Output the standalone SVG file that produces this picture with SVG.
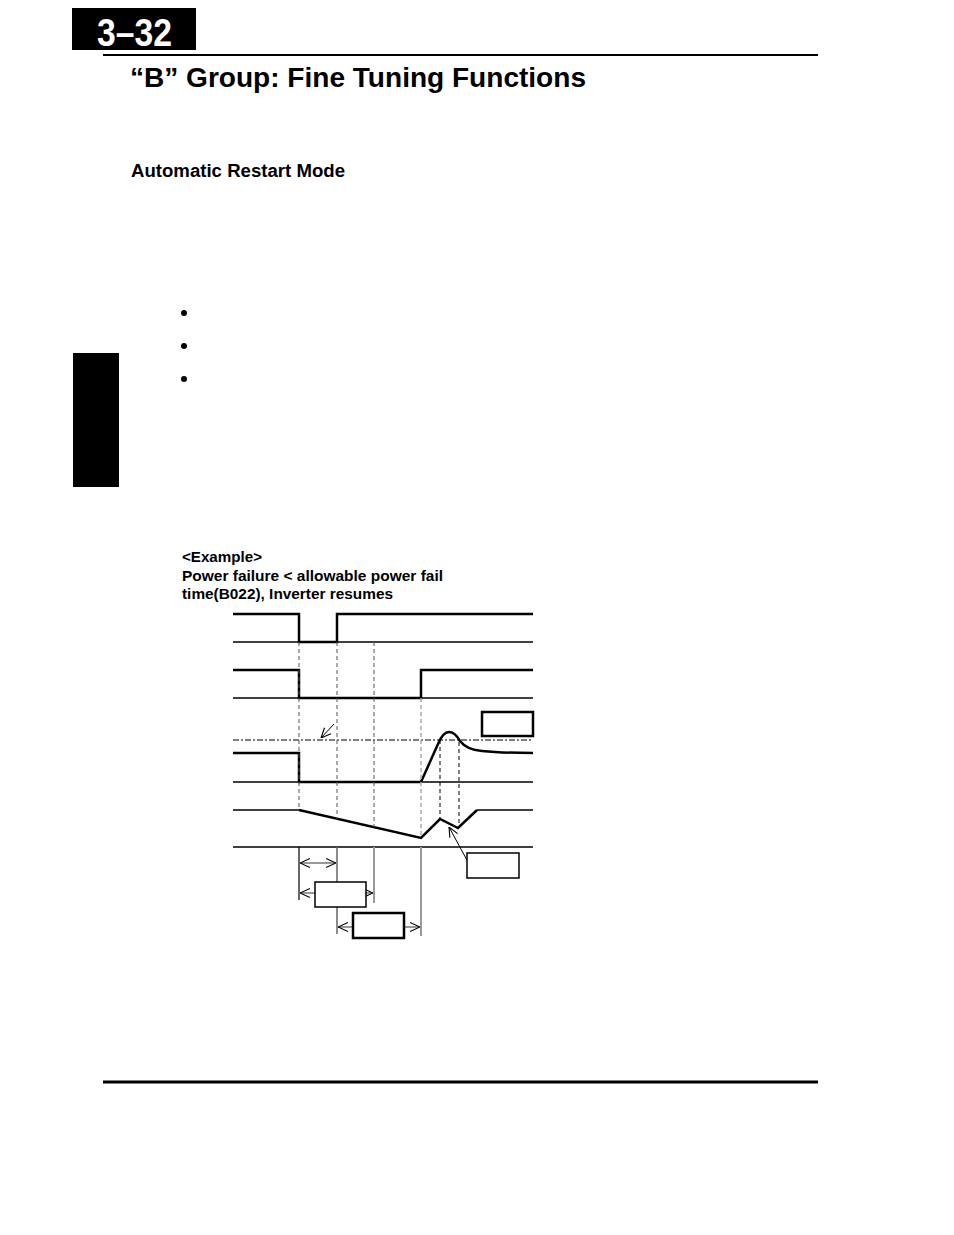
<svg xmlns="http://www.w3.org/2000/svg" width="954" height="1235" viewBox="0 0 954 1235">
<style>
.t{font-family:"Liberation Sans",Arial,sans-serif;font-weight:bold;fill:#000}
.sep{stroke:#000;stroke-width:1.5;fill:none}
.wave{stroke:#000;stroke-width:2.5;fill:none;stroke-linejoin:miter}
.dash{stroke:#555;stroke-width:1;stroke-dasharray:4,3;fill:none}
.dashl{stroke:#aaa;stroke-width:1.5;stroke-dasharray:4,3;fill:none}
.dashb{stroke:#000;stroke-width:1;stroke-dasharray:4,3;fill:none}
.gl{stroke:#999;stroke-width:2;fill:none}
.box{fill:#fff;stroke:#000;stroke-width:1.5}
.boxb{fill:#fff;stroke:#000;stroke-width:2.5}
.arr{stroke:#999;stroke-width:2;fill:none;marker-start:url(#ah);marker-end:url(#ah)}
</style>
<defs>
<marker id="ah" viewBox="0 0 10 10" refX="10" refY="5" markerWidth="11" markerHeight="11" markerUnits="userSpaceOnUse" orient="auto-start-reverse">
<path d="M1,1 L10,5 L1,9" fill="none" stroke="#000" stroke-width="1"/>
</marker>
<marker id="ak" viewBox="0 0 10 10" refX="10" refY="5" markerWidth="11" markerHeight="11" markerUnits="userSpaceOnUse" orient="auto">
<path d="M1,1 L10,5 L1,9" fill="none" stroke="#000" stroke-width="1"/>
</marker>
</defs>
<rect width="954" height="1235" fill="#fff"/>
<g id="page-header">
<rect x="72" y="8" width="124" height="42" fill="#000"/>
<text x="97" y="46" class="t" style="fill:#fff" font-size="38" textLength="75" lengthAdjust="spacingAndGlyphs">3–32</text>
<line x1="103" y1="55" x2="818" y2="55" stroke="#000" stroke-width="2"/>
<text x="130" y="87" class="t" font-size="28" textLength="456" lengthAdjust="spacingAndGlyphs">“B” Group: Fine Tuning Functions</text>
</g>
<g id="section-title">
<text x="131" y="177" class="t" font-size="18" textLength="214" lengthAdjust="spacingAndGlyphs">Automatic Restart Mode</text>
</g>
<g id="bullets">
<circle cx="184" cy="313" r="3" fill="#000"/>
<circle cx="184" cy="346" r="3" fill="#000"/>
<circle cx="184" cy="379" r="3" fill="#000"/>
</g>
<g id="side-tab">
<rect x="73" y="353" width="46" height="134" fill="#000"/>
</g>
<g id="example-caption">
<text x="182" y="562" class="t" font-size="15.5" textLength="80" lengthAdjust="spacingAndGlyphs">&lt;Example&gt;</text>
<text x="182" y="581" class="t" font-size="15.5" textLength="261" lengthAdjust="spacingAndGlyphs">Power failure &lt; allowable power fail</text>
<text x="182" y="599" class="t" font-size="15.5" textLength="211" lengthAdjust="spacingAndGlyphs">time(B022), Inverter resumes</text>
</g>
<g id="timing-grid">
<line class="sep" x1="233" y1="642" x2="533" y2="642"/>
<line class="sep" x1="233" y1="698" x2="533" y2="698"/>
<line class="sep" x1="233" y1="782" x2="533" y2="782"/>
<line class="sep" x1="233" y1="847" x2="533" y2="847"/>
<line x1="233" y1="740" x2="533" y2="740" stroke="#000" stroke-width="1" stroke-dasharray="6,2,2,2"/>
</g>
<g id="waveform-1">
<polyline class="wave" points="233,614 299,614 299,642 337,642 337,614 533,614"/>
</g>
<g id="waveform-2">
<polyline class="wave" points="233,670 299,670 299,698 421,698 421,670 533,670"/>
</g>
<g id="waveform-3">
<polyline class="wave" points="233,753 299,753 299,782 421,782"/>
<path class="wave" d="M421,782 L438,744 Q443,732 449,732 Q455,732 460,741 Q467,750 482,751 Q502,753 533,753"/>
</g>
<g id="waveform-4">
<line class="sep" x1="233" y1="810" x2="299" y2="810"/>
<polyline class="wave" points="299,810 421,838 440,819 458,828 477,810"/>
<line class="sep" x1="477" y1="810" x2="533" y2="810"/>
</g>
<g id="connectors">
<line class="dash" x1="299" y1="642" x2="299" y2="810"/>
<line class="dash" x1="337" y1="642" x2="337" y2="819"/>
<line class="dash" x1="374" y1="642" x2="374" y2="827"/>
<line class="dashl" x1="421" y1="698" x2="421" y2="838"/>
<line class="dashb" x1="440" y1="740" x2="440" y2="819"/>
<line class="dashb" x1="459" y1="742" x2="459" y2="828"/>
<line x1="299" y1="847" x2="299" y2="900" stroke="#000" stroke-width="1.2"/>
<line x1="337" y1="847" x2="337" y2="934" stroke="#666" stroke-width="1.5"/>
<line class="gl" x1="374" y1="847" x2="374" y2="903"/>
<line class="gl" x1="421" y1="847" x2="421" y2="936"/>
<line class="arr" x1="300" y1="863" x2="336" y2="863"/>
<line class="arr" x1="300" y1="893" x2="373" y2="893"/>
<line class="arr" x1="338" y1="927" x2="420" y2="927"/>
<line x1="334" y1="724" x2="321" y2="738" stroke="#000" stroke-width="1" marker-end="url(#ak)"/>
<line x1="468" y1="862" x2="449" y2="827" stroke="#000" stroke-width="1" marker-end="url(#ak)"/>
</g>
<g id="label-box-top"><rect class="boxb" x="482" y="712" width="51" height="24"/></g>
<g id="label-box-right"><rect class="box" x="467" y="853" width="52" height="25"/></g>
<g id="label-box-1"><rect class="box" x="315" y="882" width="51" height="25"/></g>
<g id="label-box-2"><rect class="boxb" x="353" y="913" width="51" height="25"/></g>
<g id="page-footer">
<line x1="103" y1="1082" x2="818" y2="1082" stroke="#000" stroke-width="3"/>
</g>
</svg>
